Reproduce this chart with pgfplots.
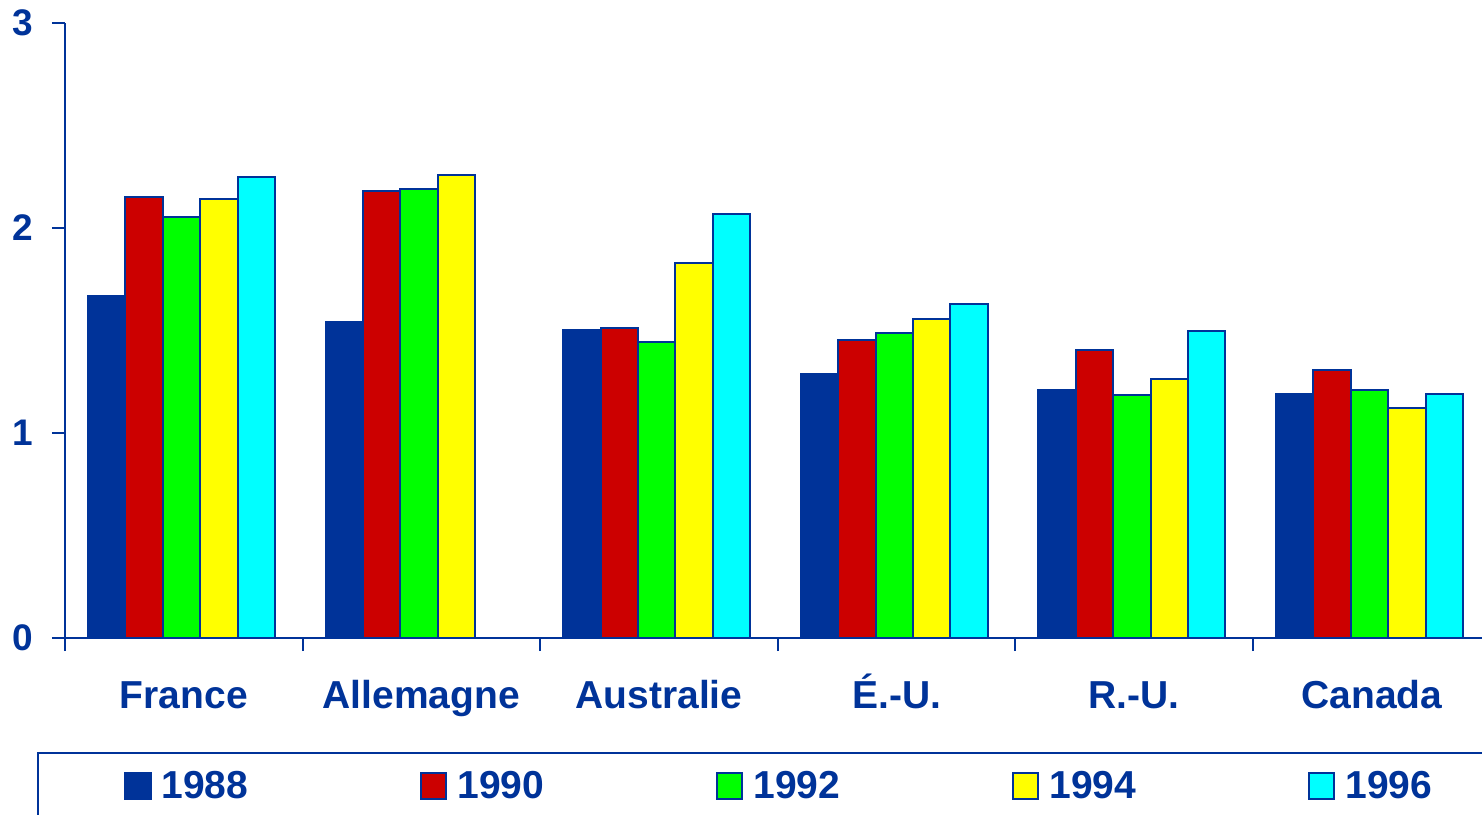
\documentclass[border=0pt]{standalone}
\usepackage{pgfplots}
\usepackage{pgfplotstable}
\pgfplotsset{compat=1.18}
\usepackage{fontspec}
\setmainfont{Liberation Sans}
\definecolor{cblue}{RGB}{0,51,153}
\definecolor{cred}{RGB}{204,0,0}
\definecolor{cgreen}{RGB}{0,255,0}
\definecolor{cyellow}{RGB}{255,255,0}
\definecolor{ccyan}{RGB}{0,255,255}
\pgfplotstableread{
x    a     b     c     d     e
0  1.669 2.153 2.056 2.143 2.250
1  1.541 2.182 2.192 2.259 nan
2  1.504 1.512 1.442 1.831 2.067
3  1.288 1.452 1.490 1.557 1.627
4  1.210 1.403 1.187 1.265 1.500
5  1.192 1.305 1.208 1.120 1.188
}\datatable
\begin{document}
\begin{tikzpicture}
\useasboundingbox (-32.5pt,-88pt) rectangle (708.5pt,319pt);
\begin{axis}[
  at={(0pt,0pt)}, anchor=south west,
  scale only axis,
  width=708.5pt, height=307.5pt,
  xmin=-0.5, xmax=5.464,
  ymin=0, ymax=3,
  axis x line=bottom, axis y line=left,
  axis line style={-, cblue, line width=1pt},
  ybar=0pt, bar width=18.7pt,
  xtick={0,1,2,3,4,5},
  xticklabels={France,Allemagne,Australie,É.-U.,R.-U.,Canada},
  minor xtick={-0.5,0.5,1.5,2.5,3.5,4.5},
  major x tick style={draw=none},
  minor tick length=6.5pt,
  major tick length=6.5pt,
  tick align=outside,
  tick style={cblue, line width=1pt},
  ytick={0,1,2,3},
  /pgf/number format/assume math mode=true,
  xticklabel style={font=\fontsize{19.5}{21}\selectfont\bfseries, text=cblue, text height=14pt, text depth=4pt, yshift=-11pt},
  yticklabel style={font=\fontsize{18.5}{20}\selectfont\bfseries, text=cblue, xshift=-6pt},
  every axis plot/.append style={draw=cblue, line width=1pt, xshift=-1.15pt},
  legend columns=5,
  legend image code/.code={\path[draw=none,fill=none] (0pt,0pt) -- (15.8pt,0pt); \draw[#1, line width=1pt] (0pt,-6.4pt) rectangle (12.8pt,6.4pt);},
  legend style={at={(axis description cs:-0.0198,-0.1854)}, anchor=north west,
    draw=cblue, line width=1pt, inner xsep=43pt, inner ysep=6.5pt,
    font=\fontsize{19.5}{21}\selectfont\bfseries, text=cblue,
    nodes={inner sep=2.5pt},
    /tikz/every even column/.append style={column sep=83.3pt}},
  clip=true,
]
\addplot[fill=cblue] table[x=x,y=a]{\datatable};
\addplot[fill=cred] table[x=x,y=b]{\datatable};
\addplot[fill=cgreen] table[x=x,y=c]{\datatable};
\addplot[fill=cyellow] table[x=x,y=d]{\datatable};
\addplot[fill=ccyan] table[x=x,y=e]{\datatable};
\legend{1988,1990,1992,1994,1996}
\end{axis}
\end{tikzpicture}
\end{document}
